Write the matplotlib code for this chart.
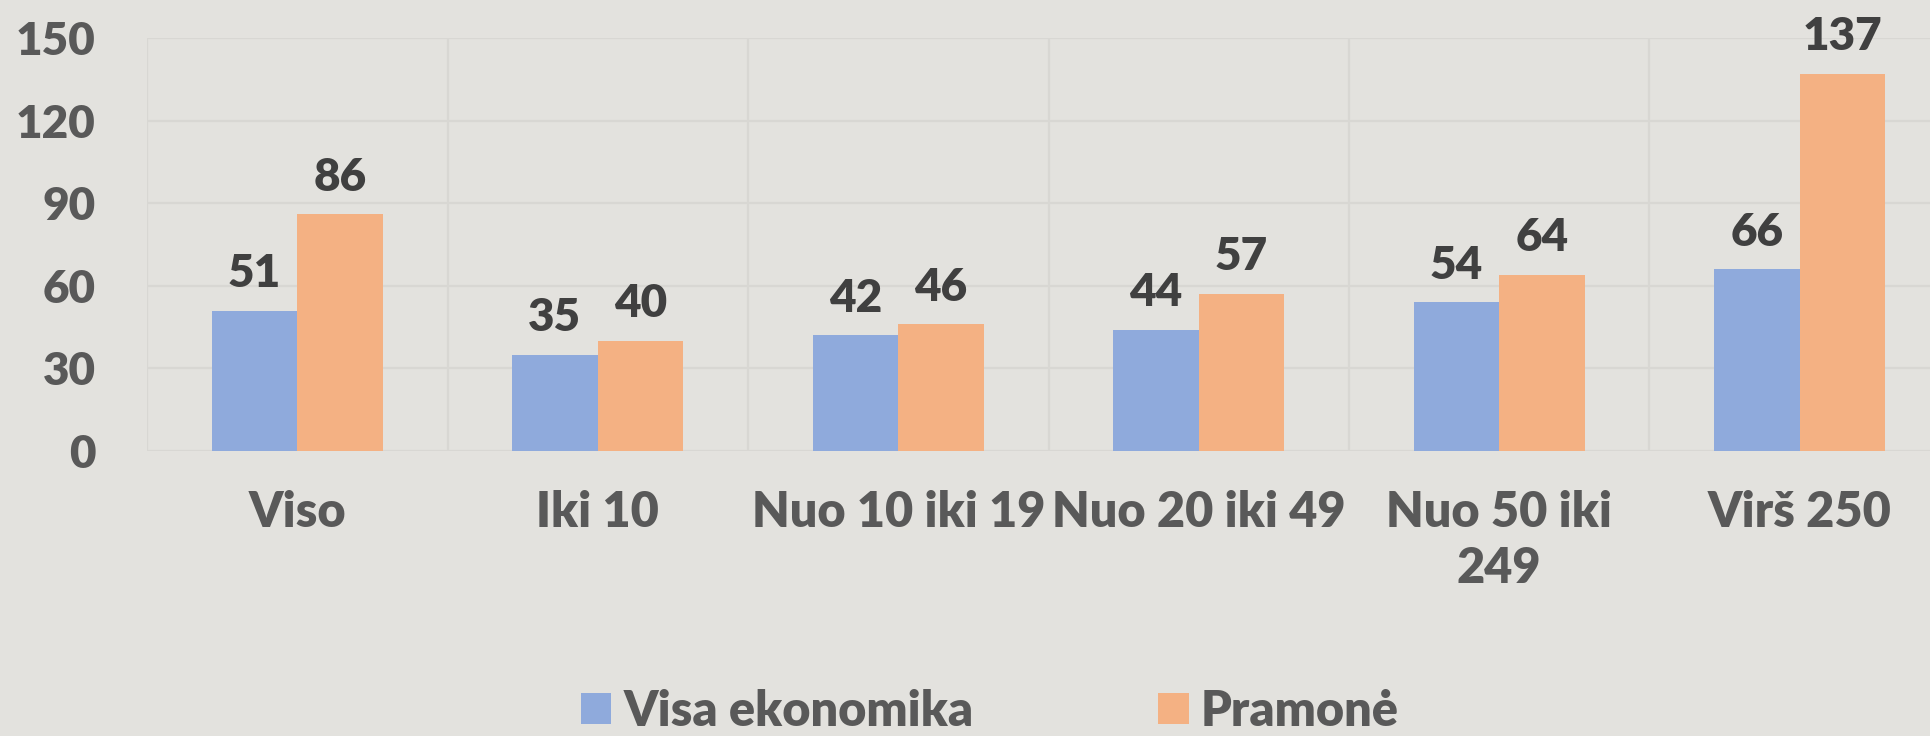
import numpy as np
import matplotlib
matplotlib.use("Agg")
import matplotlib.pyplot as plt

# Duomenys
categories = ["Viso", "Iki 10", "Nuo 10 iki 19", "Nuo 20 iki 49", "Nuo 50 iki\n249", "Virš 250"]
visa_ekonomika = [51, 35, 42, 44, 54, 66]
pramone = [86, 40, 46, 57, 64, 137]
series_names = ["Visa ekonomika", "Pramonė"]
y_ticks = [0, 30, 60, 90, 120, 150]

BG = "#E3E2DE"
GRID = "#D8D7D3"
BLUE = "#8FAADC"
ORANGE = "#F4B183"
TICK_COLOR = "#595959"
LABEL_COLOR = "#404040"
FS_NUM = 33   # skaičiai
FS_TXT = 35   # tekstas
WEIGHT = 800

plt.rcParams["font.family"] = ["Lato", "DejaVu Sans"]
plt.rcParams["font.weight"] = WEIGHT

fig = plt.figure(figsize=(19.31, 7.36), dpi=100, facecolor=BG)
ax = fig.add_axes([147 / 1931, 285 / 736, 1803 / 1931, 413 / 736], facecolor=BG)

x = np.arange(len(categories))
w = 0.285

b1 = ax.bar(x - w / 2, visa_ekonomika, w, color=BLUE, label=series_names[0], zorder=3)
b2 = ax.bar(x + w / 2, pramone, w, color=ORANGE, label=series_names[1], zorder=3)

# reikšmių etiketės virš stulpelių
for bars, vals in ((b1, visa_ekonomika), (b2, pramone)):
    for rect, v in zip(bars, vals):
        ax.annotate(str(v), (rect.get_x() + rect.get_width() / 2, v),
                    xytext=(0, 12), textcoords="offset points",
                    ha="center", va="bottom", fontsize=FS_NUM, fontweight=WEIGHT,
                    color=LABEL_COLOR, annotation_clip=False)

ax.set_xlim(-0.5, len(categories) - 0.5)
ax.set_ylim(0, 150)
ax.set_yticks(y_ticks)
ax.set_xticks(x)
ax.set_xticklabels(categories, fontsize=FS_TXT, fontweight=WEIGHT, color=TICK_COLOR,
                   linespacing=1.3, va="top")
ax.set_xticks(np.arange(-0.5, len(categories)), minor=True)
ax.tick_params(axis="y", length=0, pad=37, labelsize=FS_NUM, labelcolor=TICK_COLOR)
ax.tick_params(axis="x", which="both", length=0, pad=28)

ax.grid(axis="y", which="major", color=GRID, linewidth=1.6, zorder=0)
ax.grid(axis="x", which="minor", color=GRID, linewidth=1.6, zorder=0)
for s in ax.spines.values():
    s.set_visible(False)

fig.legend(handles=[b1, b2], labels=series_names, loc="center",
           bbox_to_anchor=(990 / 1931, 1 - 711 / 736), ncol=2, frameon=False,
           fontsize=FS_TXT, labelcolor=TICK_COLOR,
           handlelength=0.62, handleheight=0.62, handletextpad=0.25,
           columnspacing=3.8, borderpad=0)

fig.savefig("out.png", dpi=100, facecolor=BG)
